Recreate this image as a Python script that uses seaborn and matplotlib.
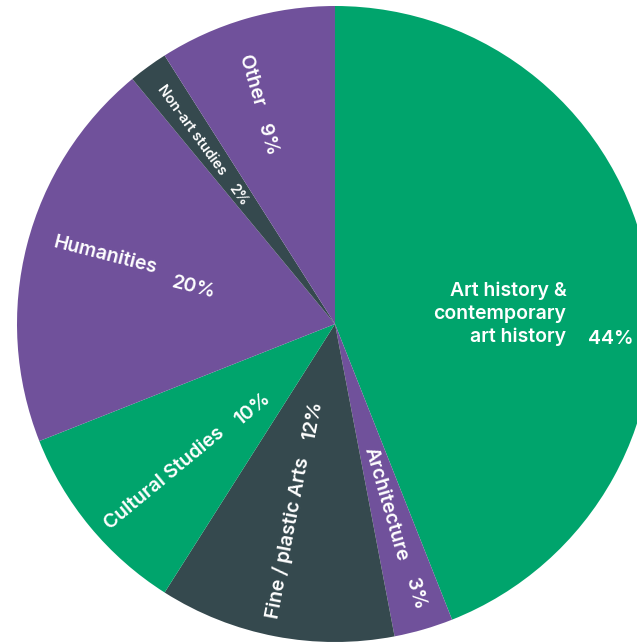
import numpy as np
import matplotlib
matplotlib.use("Agg")
import matplotlib.pyplot as plt
import seaborn as sns

# Share of respondents by field of study
categories = ["Art history &\ncontemporary\nart history", "Architecture", "Fine / plastic Arts",
              "Cultural Studies", "Humanities", "Non-art studies", "Other"]
shares = [44, 3, 12, 10, 20, 2, 9]

GREEN = "#00A46C"
PURPLE = "#70519B"
SLATE = "#35494E"
slice_colors = [GREEN, PURPLE, SLATE, GREEN, PURPLE, SLATE, PURPLE]

# placement of name / percentage: radius (fraction of pie radius) and
# angular nudge (degrees) from the wedge's centre line
label_r = [None, 0.59, 0.69, 0.725, 0.755, 0.758, 0.808]
label_dth = [None, -0.5, -1.6, 2.6, -2.3, 0.4, 2.9]
pct_r = [None, 0.885, 0.31, 0.373, 0.458, 0.507, 0.617]
pct_dth = [None, 0.3, -2.1, 6.1, 0.1, 0.9, 4.1]
font_sizes = [14.0, 14.0, 14.0, 14.0, 14.0, 10.2, 14.0]

sns.set_theme(style="white")
plt.rcParams["font.family"] = ["Inter", "DejaVu Sans"]
WEIGHT = "semibold"

W, H, DPI = 637, 643, 100
fig = plt.figure(figsize=(W / DPI, H / DPI), dpi=DPI)
ax = fig.add_axes([0, 0, 1, 1])

ax.pie(shares, colors=slice_colors, startangle=90, counterclock=False,
       radius=1.0, wedgeprops=dict(linewidth=0))

# place the circle at pixel (335, 324) with a radius of 318 px
cx, cy, R = 335, 324, 318
ax.set_xlim(-cx / R, (W - cx) / R)
ax.set_ylim(-(H - cy) / R, cy / R)
ax.set_aspect("auto")
ax.axis("off")

total = sum(shares)
start = 90.0
for i, (name, val) in enumerate(zip(categories, shares)):
    sweep = 360.0 * val / total
    mid = start - sweep / 2.0
    start -= sweep
    pct = f"{val}%"
    fs = font_sizes[i]
    if i == 0:
        ax.text(0.728, 0.031, name, ha="right", va="center", color="white",
                fontsize=fs, fontweight=WEIGHT, linespacing=1.33)
        ax.text(0.796, -0.047, pct, ha="left", va="center", color="white",
                fontsize=fs, fontweight=WEIGHT)
        continue
    rot = mid if -90 <= mid <= 90 else mid - 180
    for r, dth, s in ((label_r[i], label_dth[i], name), (pct_r[i], pct_dth[i], pct)):
        th = np.deg2rad(mid + dth)
        ax.text(r * np.cos(th), r * np.sin(th), s, ha="center", va="center",
                rotation=rot, rotation_mode="anchor", color="white",
                fontsize=fs, fontweight=WEIGHT)

fig.savefig("out.png", dpi=DPI, facecolor="white")
